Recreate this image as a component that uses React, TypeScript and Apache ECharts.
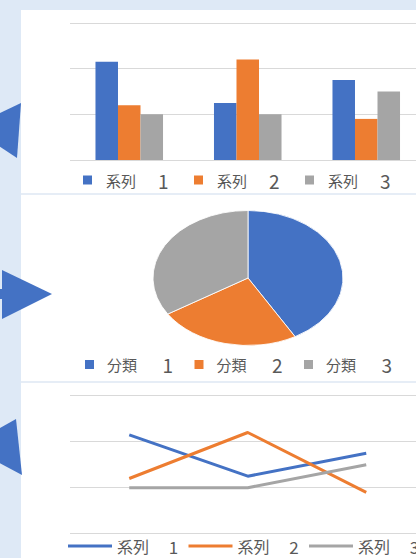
import React, { useEffect, useRef } from "react";
import * as echarts from "echarts";

const CATEGORIES = ["カテゴリ 1", "カテゴリ 2", "カテゴリ 3"];
const SERIES_NAMES = ["系列 1", "系列 2", "系列 3"];
const BAR_S1 = [4.3, 2.5, 3.5];
const BAR_S2 = [2.4, 4.4, 1.8];
const BAR_S3 = [2, 2, 3];
const LINE_S1 = [4.3, 2.5, 3.5];
const LINE_S2 = [2.4, 4.4, 1.8];
const LINE_S3 = [2, 2, 3];
const PIE_NAMES = ["分類 1", "分類 2", "分類 3"];
const PIE_VALUES = [4.3, 2.5, 3.5];
const Y_MIN = 0;
const Y_MAX = 6;
const Y_INTERVAL = 2;

const COLORS = ["#4472c4", "#ed7d31", "#a5a5a5"];
const FONT = "'Noto Sans CJK JP', 'Noto Sans CJK SC', sans-serif";
const TEXT = "#595959";

function fmt(name: string) {
  const [w, d] = name.split(" ");
  return `{p| }{a|${w}}{g| }{b|${d}}`;
}

function rich(size: number, digitSize: number, lh: number, pad: number, a: number, gap: number, bw: number) {
  const base = { fontFamily: FONT, fontSize: size, color: TEXT, lineHeight: lh };
  return {
    p: { ...base, width: pad },
    a: { ...base, width: a },
    g: { ...base, width: gap },
    b: { ...base, fontSize: digitSize, width: bw },
  };
}

export default function App() {
  const mainRef = useRef<HTMLDivElement>(null);
  const pieRef = useRef<HTMLDivElement>(null);

  useEffect(() => {
    const main = echarts.init(mainRef.current!, null, { renderer: "svg" });
    const yAxisBase = {
      type: "value",
      min: Y_MIN,
      max: Y_MAX,
      interval: Y_INTERVAL,
      axisLabel: { show: false },
      axisLine: { show: false },
      axisTick: { show: false },
      splitLine: { lineStyle: { color: "#d9d9d9", width: 1 } },
    };
    const xAxisBase = {
      type: "category",
      data: CATEGORIES,
      axisLabel: { show: false },
      axisLine: { show: false },
      axisTick: { show: false },
    };
    main.setOption({
      animation: false,
      color: COLORS,
      graphic: [
        { type: "rect", shape: { x: 0, y: 0, width: 600, height: 558 }, style: { fill: "#dee9f6" } },
        { type: "rect", shape: { x: 21, y: 10, width: 579, height: 548 }, style: { fill: "#ffffff" } },
        { type: "rect", shape: { x: 21, y: 193, width: 579, height: 2 }, style: { fill: "#e6edf6" } },
        { type: "rect", shape: { x: 21, y: 381, width: 579, height: 2 }, style: { fill: "#e6edf6" } },
        { type: "polygon", shape: { points: [[21, 103], [17, 158], [-30, 127]] }, style: { fill: "#4472c4" } },
        { type: "polygon", shape: { points: [[2, 270], [2, 319], [52, 294]] }, style: { fill: "#4472c4" } },
        { type: "rect", shape: { x: 0, y: 289, width: 3, height: 10 }, style: { fill: "#4472c4" } },
        { type: "polygon", shape: { points: [[16, 419], [22, 475], [-32, 446]] }, style: { fill: "#4472c4" } },
      ],
      grid: [
        { left: 70, top: 23, width: 355.5, height: 137 },
        { left: 70, top: 395.7, width: 355.5, height: 138 },
      ],
      xAxis: [
        { ...xAxisBase, gridIndex: 0 },
        { ...xAxisBase, gridIndex: 1 },
      ],
      yAxis: [
        { ...yAxisBase, gridIndex: 0 },
        { ...yAxisBase, gridIndex: 1 },
      ],
      legend: [
        {
          data: SERIES_NAMES,
          left: 83,
          top: 170.5,
          padding: 0,
          icon: "rect",
          itemWidth: 9,
          itemHeight: 9,
          itemGap: 24,
          selectedMode: false,
          formatter: fmt,
          textStyle: { fontFamily: FONT, fontSize: 15, color: TEXT, lineHeight: 18, rich: rich(15, 19, 18, 9, 30, 22, 12) },
        },
        {
          data: PIE_NAMES,
          left: 85,
          top: 355,
          padding: 0,
          icon: "rect",
          itemWidth: 9,
          itemHeight: 9,
          itemGap: 20,
          selectedMode: false,
          formatter: fmt,
          textStyle: { fontFamily: FONT, fontSize: 15, color: TEXT, lineHeight: 18, rich: rich(15, 19, 18, 8, 30, 25.5, 12) },
        },
        {
          data: SERIES_NAMES,
          left: 68,
          top: 537.5,
          padding: 0,
          icon: "rect",
          itemWidth: 44,
          itemHeight: 3,
          itemGap: 7.7,
          selectedMode: false,
          formatter: fmt,
          textStyle: { fontFamily: FONT, fontSize: 16, color: TEXT, lineHeight: 16, rich: rich(16, 17, 16, 0, 32, 19.8, 12) },
        },
      ],
      series: [
        { type: "bar", name: SERIES_NAMES[0], data: BAR_S1, xAxisIndex: 0, yAxisIndex: 0, barGap: "0%", barCategoryGap: "43%" },
        { type: "bar", name: SERIES_NAMES[1], data: BAR_S2, xAxisIndex: 0, yAxisIndex: 0, barGap: "0%", barCategoryGap: "43%" },
        { type: "bar", name: SERIES_NAMES[2], data: BAR_S3, xAxisIndex: 0, yAxisIndex: 0, barGap: "0%", barCategoryGap: "43%" },
        { type: "line", name: SERIES_NAMES[0], data: LINE_S1, xAxisIndex: 1, yAxisIndex: 1, symbol: "none", lineStyle: { width: 3, color: COLORS[0] }, itemStyle: { color: COLORS[0] } },
        { type: "line", name: SERIES_NAMES[1], data: LINE_S2, xAxisIndex: 1, yAxisIndex: 1, symbol: "none", lineStyle: { width: 3, color: COLORS[1] }, itemStyle: { color: COLORS[1] } },
        { type: "line", name: SERIES_NAMES[2], data: LINE_S3, xAxisIndex: 1, yAxisIndex: 1, symbol: "none", lineStyle: { width: 3, color: COLORS[2] }, itemStyle: { color: COLORS[2] } },
        {
          type: "pie",
          name: "legend-source",
          center: [-200, -200],
          radius: 1,
          silent: true,
          label: { show: false },
          labelLine: { show: false },
          data: PIE_NAMES.map((n, i) => ({ name: n, value: PIE_VALUES[i], itemStyle: { color: COLORS[i] } })),
        },
      ],
    });

    const pie = echarts.init(pieRef.current!, null, { renderer: "svg" });
    pie.setOption({
      animation: false,
      series: [
        {
          type: "pie",
          center: ["50%", "50%"],
          radius: 95,
          startAngle: 90,
          clockwise: true,
          silent: true,
          label: { show: false },
          labelLine: { show: false },
          itemStyle: { borderColor: "#ffffff", borderWidth: 1 },
          data: PIE_NAMES.map((n, i) => ({ name: n, value: PIE_VALUES[i], itemStyle: { color: COLORS[i] } })),
        },
      ],
    });

    return () => {
      main.dispose();
      pie.dispose();
    };
  }, []);

  return (
    <div style={{ position: "absolute", left: 0, top: 0, width: 416, height: 558, overflow: "hidden", background: "#dee9f6" }}>
      <div ref={mainRef} style={{ position: "absolute", left: 0, top: 0, width: 600, height: 558 }} />
      <div
        ref={pieRef}
        style={{
          position: "absolute",
          left: 148.3,
          top: 178,
          width: 200,
          height: 200,
          transform: "scaleY(0.7105)",
          transformOrigin: "50% 50%",
        }}
      />
    </div>
  );
}
